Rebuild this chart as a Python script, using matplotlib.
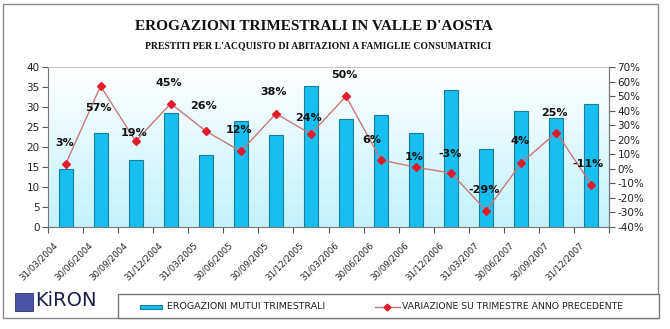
import matplotlib
matplotlib.use("Agg")
import matplotlib.pyplot as plt
import numpy as np
from matplotlib.patches import Rectangle

categories = ["31/03/2004", "30/06/2004", "30/09/2004", "31/12/2004",
              "31/03/2005", "30/06/2005", "30/09/2005", "31/12/2005",
              "31/03/2006", "30/06/2006", "30/09/2006", "31/12/2006",
              "31/03/2007", "30/06/2007", "30/09/2007", "31/12/2007"]
erogazioni = [14.4, 23.5, 16.8, 28.6, 17.9, 26.6, 23.1, 35.3,
              27.0, 28.0, 23.5, 34.3, 19.4, 29.1, 27.4, 30.7]
variazione = [3, 57, 19, 45, 26, 12, 38, 24, 50, 6, 1, -3, -29, 4, 25, -11]
label_offsets = [(-1, 21), (-2, -22), (-2, 8), (-2, 21), (-2, 25), (-2, 21),
                 (-2, 22), (-2, 16), (-2, 21), (-9, 20), (-2, 10), (-1, 19),
                 (-2, 21), (-1, 22), (-2, 20), (-3, 21)]

W, H = 670, 329
fig = plt.figure(figsize=(W / 100, H / 100), dpi=100)
fig.patch.set_facecolor("white")

def px(x, y):
    return x / W, 1 - y / H

# outer frame
fig.add_artist(Rectangle(px(3, 318), 655 / W, 314 / H, transform=fig.transFigure,
                         fill=False, edgecolor="#8a8a8a", lw=1.0, zorder=0))

left, right, top, bottom = 48, 609, 67.3, 226.7
ax = fig.add_axes([left / W, 1 - bottom / H, (right - left) / W, (bottom - top) / H])
x = np.arange(len(categories))

# gradient background
grad = np.linspace(0, 1, 256).reshape(-1, 1)
c_top = np.array([0.76, 0.95, 0.99])
c_bot = np.array([1.0, 1.0, 1.0])
img = c_top[None, None, :] * (1 - grad[:, :, None]) + c_bot[None, None, :] * grad[:, :, None]
ax.imshow(img, extent=[-0.5, len(categories) - 0.5, 40, 0], aspect="auto", zorder=0)

ax.bar(x, erogazioni, width=0.4, color="#17bff0", edgecolor="#1a7d99", lw=0.8, zorder=2)
ax.set_xlim(-0.5, len(categories) - 0.5)
ax.set_ylim(0, 40)
ax.set_yticks(np.arange(0, 41, 5))
ax.set_xticks(np.arange(-0.5, len(categories), 1.0))
ax.set_xticklabels([])
for xi, cat in zip(x, categories):
    ax.annotate(cat, (xi, 0), xycoords=("data", "axes fraction"),
                xytext=(-9, -17), textcoords="offset pixels",
                rotation=45, rotation_mode="anchor", ha="right", va="center",
                fontsize=6.2, color="#222222", annotation_clip=False)
ax.tick_params(axis="x", which="major", length=4, color="#555555", direction="out")
ax.tick_params(axis="y", labelsize=7.5, length=4, color="#555555", labelcolor="#222222", pad=2)
for s in ["left", "bottom", "right"]:
    ax.spines[s].set_color("#777777")
    ax.spines[s].set_linewidth(0.8)
ax.spines["top"].set_color("#bbbbbb")
ax.spines["top"].set_linewidth(0.6)

ax2 = ax.twinx()
ax2.plot(x, variazione, color="#c87878", lw=1.0, marker="D", ms=3.8,
         markerfacecolor="#e01c2c", markeredgecolor="#e01c2c", zorder=3)
ax2.set_ylim(-40, 70)
ax2.set_yticks(np.arange(-40, 71, 10))
ax2.set_yticklabels([f"{v}%" for v in range(-40, 71, 10)])
ax2.tick_params(axis="y", labelsize=7.5, length=4, color="#555555", labelcolor="#222222", pad=2)
for s in ax2.spines.values():
    s.set_visible(False)
ax2.spines["right"].set_visible(True)
ax2.spines["right"].set_color("#777777")
ax2.spines["right"].set_linewidth(0.8)

for xi, v, off in zip(x, variazione, label_offsets):
    ax2.annotate(f"{v}%", (xi, v), xytext=off, textcoords="offset pixels",
                 ha="center", va="center", fontsize=8, fontweight="bold",
                 color="#111111", zorder=5)

# titles
fig.text(*px(314, 27), "EROGAZIONI TRIMESTRALI IN VALLE D'AOSTA",
         ha="center", va="center", fontsize=11, fontweight="bold",
         family="Liberation Serif", color="#111111")
fig.text(*px(318, 46), "PRESTITI PER L'ACQUISTO DI ABITAZIONI A FAMIGLIE CONSUMATRICI",
         ha="center", va="center", fontsize=7, fontweight="bold",
         family="Liberation Serif", color="#111111")

# legend box
fig.add_artist(Rectangle(px(118, 318), 541 / W, 24 / H, transform=fig.transFigure,
                         facecolor="white", edgecolor="#777777", lw=1.0, zorder=3))
fig.add_artist(Rectangle(px(140, 308.5), 22 / W, 4 / H, transform=fig.transFigure,
                         facecolor="#17bff0", edgecolor="#1a7d99", lw=0.8, zorder=4))
fig.text(*px(167, 306.5), "EROGAZIONI MUTUI TRIMESTRALI", ha="left", va="center",
         fontsize=6.8, family="Liberation Sans Narrow", color="#222222", zorder=5)
fig.add_artist(plt.Line2D([375 / W, 400 / W], [1 - 306.5 / H] * 2, transform=fig.transFigure,
                          color="#c87878", lw=1.0, zorder=4))
fig.add_artist(plt.Line2D([387.5 / W], [1 - 306.5 / H], transform=fig.transFigure,
                          color="#e01c2c", marker="D", ms=3.5, lw=0, zorder=5))
fig.text(*px(402, 306.5), "VARIAZIONE SU TRIMESTRE ANNO PRECEDENTE", ha="left", va="center",
         fontsize=6.7, family="Liberation Sans Narrow", color="#222222", zorder=5)

# logo
fig.add_artist(Rectangle(px(15, 311), 18 / W, 18 / H, transform=fig.transFigure,
                         facecolor="#4a55a8", edgecolor="#2a2f70", lw=0.6, zorder=4))
fig.text(*px(35, 301), "KiRON", ha="left", va="center", fontsize=14,
         family="DejaVu Sans", color="#1a1f4a", zorder=5)

fig.savefig("out.png", dpi=100)
